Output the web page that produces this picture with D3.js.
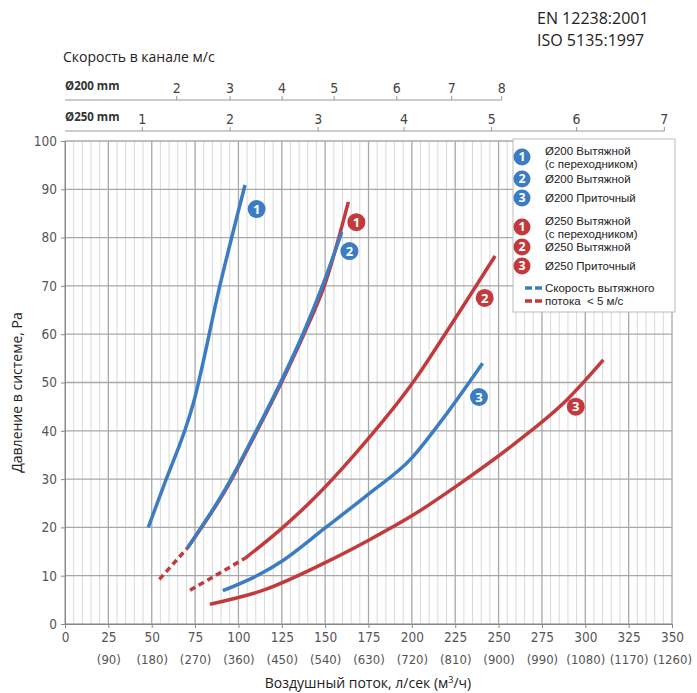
<!DOCTYPE html>
<html><head><meta charset="utf-8">
<script src="https://cdn.jsdelivr.net/npm/d3@7"></script>
<style>
body{margin:0;background:#fff;}
svg{display:block;}
</style></head>
<body>
<svg id="c" width="697" height="693"></svg>
<script>
// ---------- data ----------
const xTicks = [0,25,50,75,100,125,150,175,200,225,250,275,300,325,350];
const xTicksM3h = ["","(90)","(180)","(270)","(360)","(450)","(540)","(630)","(720)","(810)","(900)","(990)","(1080)","(1170)","(1260)"];
const yTicks = [0,10,20,30,40,50,60,70,80,90,100];
// top velocity axes: velocity label and flow position (l/s) as read
const v200Labels = [2,3,4,5,6,7,8];
const v200Flow   = [64.4,95.2,125.2,155.2,191.3,223,251.8];
const v250Labels = [1,2,3,4,5,6,7];
const v250Flow   = [44.6,95.2,146,195.5,246,295,345.6];

// curves [flow l/s, pressure Pa]
const blue1 = [[48,20],[56.7,28.4],[74,45.7],[89.4,70.2],[103.8,90.9]];
const blue2 = [[70.5,15.7],[93.2,28.4],[108.6,38.8],[124,49.8],[137.4,60.2],[149,70.5],[159.6,81.2]];
const red1Dash = [[54.4,9.25],[70.5,15.7]];
const red1 = [[70.5,15.7],[93.6,28.4],[109,38.8],[124.5,49.8],[138,60.2],[150,70.5],[163.4,87.4]];
const red2Dash = [[72.1,7.0],[88,10.3],[103.8,13.6]];
const red2 = [[103.8,13.6],[124,19.5],[141.3,25.2],[168.2,35.6],[201,50.2],[222,61.6],[248,76.2]];
const blue3 = [[91,6.9],[114.4,10.7],[125,13],[150,19.9],[175,26.9],[200,34.4],[216,41.6],[240.8,54]];
const red3 = [[83.6,4.1],[114.4,7.0],[150,12.7],[175.9,17.5],[200.9,22.6],[225.9,28.6],[262,38.1],[289.3,46.4],[310.4,54.7]];

// curve number markers [flow, pressure, number, series]
const markers = [[110.5,85.9,"1","b"],[168,83.2,"1","r"],[164,77.2,"2","b"],[242,67.5,"2","r"],[238.7,47,"3","b"],[294.5,45,"3","r"]];

const legendItems = [
  {n:"1", s:"b", lines:["Ø200 Вытяжной","(с переходником)"]},
  {n:"2", s:"b", lines:["Ø200 Вытяжной"]},
  {n:"3", s:"b", lines:["Ø200 Приточный"]},
  {n:"1", s:"r", lines:["Ø250 Вытяжной","(с переходником)"]},
  {n:"2", s:"r", lines:["Ø250 Вытяжной"]},
  {n:"3", s:"r", lines:["Ø250 Приточный"]}
];
const noteLines = [["b","Скорость вытяжного"],["r","потока  < 5 м/с"]];

// ---------- drawing ----------
const BLUE = "#3b7cc2", RED = "#c33a3c";
const col = s => s === "b" ? BLUE : RED;
const svg = d3.select("#c");
const L = 65, R = 672, T = 141, B = 624;
const x = d3.scaleLinear().domain([0,350]).range([L,R]);
const y = d3.scaleLinear().domain([0,100]).range([B,T]);
const FONT = "'Open Sans','Noto Sans',sans-serif";
const LEG = "'Liberation Sans',Arial,sans-serif";
const NARROW = "'Liberation Sans Narrow','DejaVu Sans Condensed','Roboto Condensed',sans-serif";

// header
svg.append("text").attr("x",537).attr("y",24).attr("font-family",FONT).attr("font-size",16).attr("fill","#222").text("EN 12238:2001");
svg.append("text").attr("x",537).attr("y",46).attr("font-family",FONT).attr("font-size",16).attr("fill","#222").text("ISO 5135:1997");
svg.append("text").attr("x",63).attr("y",62).attr("font-family",FONT).attr("font-size",14).attr("fill","#222").text("Скорость в канале м/с");

// grid
const g = svg.append("g");
d3.range(0,351,5).forEach(v=>{
  if (v%25!==0) g.append("line").attr("x1",x(v)).attr("x2",x(v)).attr("y1",T).attr("y2",B).attr("stroke","#d9d9d9").attr("stroke-width",1);
});
yTicks.forEach(v=>{
  g.append("line").attr("x1",L).attr("x2",R).attr("y1",y(v)).attr("y2",y(v)).attr("stroke","#a8a8a8").attr("stroke-width",1.3);
});
xTicks.forEach(v=>{
  g.append("line").attr("x1",x(v)).attr("x2",x(v)).attr("y1",T).attr("y2",B).attr("stroke","#a8a8a8").attr("stroke-width",1.3);
});

// axes
const xAxis = svg.append("g").attr("transform",`translate(0,${B})`)
  .call(d3.axisBottom(x).tickValues(xTicks).tickSize(4).tickPadding(4));
xAxis.select(".domain").attr("stroke","#888");
xAxis.selectAll(".tick line").attr("stroke","#888");
xAxis.selectAll(".tick text").attr("font-family",NARROW).attr("font-size",13.5).attr("fill","#555");
xAxis.selectAll(".tick").append("text").attr("y",31).attr("dy","0.71em").attr("fill","#555")
  .attr("font-family",NARROW).attr("font-size",13).attr("text-anchor","middle")
  .text((d,i)=>xTicksM3h[i]);

const yAxis = svg.append("g").attr("transform",`translate(${L},0)`)
  .call(d3.axisLeft(y).tickValues(yTicks).tickSize(4).tickPadding(4));
yAxis.select(".domain").attr("stroke","#888");
yAxis.selectAll(".tick line").attr("stroke","#888");
yAxis.selectAll(".tick text").attr("font-family",NARROW).attr("font-size",13.5).attr("fill","#555");

svg.append("text").attr("x",368).attr("y",688).attr("text-anchor","middle").attr("font-family",FONT).attr("font-size",14).attr("fill","#222")
  .html("Воздушный поток, л/сек (м<tspan dy='-5' font-size='9'>3</tspan><tspan dy='5'>/ч)</tspan>");
svg.append("text").attr("transform",`translate(22,${(T+B)/2+10}) rotate(-90)`).attr("text-anchor","middle").attr("font-family",FONT).attr("font-size",14).attr("fill","#222")
  .text("Давление в системе, Ра");

// top velocity axes
function topAxis(yPos, labels, flows, endFlow, name){
  const ag = svg.append("g").attr("transform",`translate(0,${yPos})`);
  ag.append("line").attr("x1",L).attr("x2",x(endFlow)).attr("y1",0).attr("y2",0).attr("stroke","#999").attr("stroke-width",1);
  flows.forEach((f,i)=>{
    ag.append("line").attr("x1",x(f)).attr("x2",x(f)).attr("y1",-4).attr("y2",0).attr("stroke","#999");
    ag.append("text").attr("x",x(f)).attr("y",-7).attr("text-anchor","middle").attr("font-family",NARROW).attr("font-size",14).attr("fill","#444").text(labels[i]);
  });
  ag.append("text").attr("x",L).attr("y",-10).attr("font-family",FONT).attr("font-size",11.5).attr("font-weight","bold").attr("fill","#333").text(name);
}
topAxis(100, v200Labels, v200Flow, v200Flow[v200Flow.length-1], "Ø200 mm");
topAxis(131, v250Labels, v250Flow, v250Flow[v250Flow.length-1], "Ø250 mm");

// curves
const line = d3.line().x(d=>x(d[0])).y(d=>y(d[1])).curve(d3.curveMonotoneX);
const cg = svg.append("g").attr("fill","none").attr("stroke-width",3.5).attr("stroke-linecap","butt");
cg.append("path").attr("d",line(red1Dash)).attr("stroke",RED).attr("stroke-dasharray","6,4");
cg.append("path").attr("d",line(red2Dash)).attr("stroke",RED).attr("stroke-dasharray","6,4");
cg.append("path").attr("d",line(red3)).attr("stroke",RED);
cg.append("path").attr("d",line(red2)).attr("stroke",RED);
cg.append("path").attr("d",line(red1)).attr("stroke",RED);
cg.append("path").attr("d",line(blue3)).attr("stroke",BLUE);
cg.append("path").attr("d",line(blue2)).attr("stroke",BLUE);
cg.append("path").attr("d",line(blue1)).attr("stroke",BLUE);

function badge(parent, cx, cy, r, n, s){
  parent.append("circle").attr("cx",cx).attr("cy",cy).attr("r",r).attr("fill",col(s));
  parent.append("text").attr("x",cx).attr("y",cy).attr("dy","0.36em").attr("text-anchor","middle")
    .attr("font-family",FONT).attr("font-weight","bold").attr("font-size",r*1.45).attr("fill","#fff").text(n);
}
markers.forEach(m=>badge(svg, x(m[0]), y(m[1]), 9, m[2], m[3]));

// legend
const lg = svg.append("g");
lg.append("rect").attr("x",513).attr("y",139).attr("width",162).attr("height",173).attr("fill","#fff").attr("stroke","#bbb").attr("stroke-width",1);
const rowY = [151,179,198,221,247,266];
legendItems.forEach((it,i)=>{
  const yy = rowY[i];
  badge(lg, 522, yy + (it.lines.length>1?6:0), 8.5, it.n, it.s);
  it.lines.forEach((t,j)=>{
    lg.append("text").attr("x",545).attr("y",yy+j*13).attr("dy","0.35em").attr("font-family",LEG).attr("font-size",11.5).attr("fill","#222").text(t);
  });
});
noteLines.forEach((d,i)=>{
  const yy = 288 + i*13;
  lg.append("line").attr("x1",525).attr("x2",544).attr("y1",yy).attr("y2",yy).attr("stroke",col(d[0])).attr("stroke-width",3.5).attr("stroke-dasharray","7,3");
  lg.append("text").attr("x",545).attr("y",yy).attr("dy","0.35em").attr("font-family",LEG).attr("font-size",11.5).attr("fill","#222").attr("xml:space","preserve").text(d[1]);
});
</script>
</body></html>
